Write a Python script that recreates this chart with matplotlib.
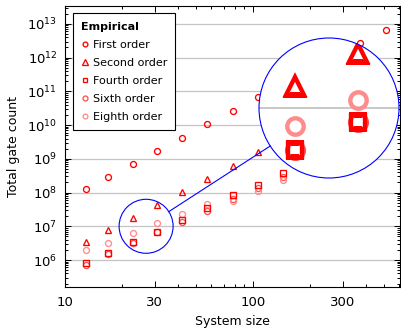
import numpy as np
import matplotlib
matplotlib.use('Agg')
import matplotlib.pyplot as plt
from matplotlib.patches import Circle
from matplotlib.lines import Line2D
from matplotlib.transforms import IdentityTransform
from matplotlib.ticker import LogLocator, NullFormatter, FixedLocator, FuncFormatter

plt.rcParams['font.family'] = ['DejaVu Sans']

# gate counts per system size, one series per product-formula order
first_x = [13, 17, 23, 31, 42, 57, 78, 106, 370, 510]
first_order = [1.27e8, 2.83e8, 7.18e8, 1.71e9, 4.24e9, 1.06e10, 2.68e10, 6.70e10, 2.67e12, 6.64e12]

second_x = [13, 17, 23, 31, 42, 57, 78, 106]
second_order = [3.48e6, 7.74e6, 1.79e7, 4.28e7, 1.02e8, 2.52e8, 6.27e8, 1.56e9]

high_x = [13, 17, 23, 31, 42, 57, 78, 106, 145]
fourth_order = [8.13e5, 1.64e6, 3.34e6, 6.90e6, 1.56e7, 3.56e7, 8.18e7, 1.64e8, 3.67e8]
sixth_order = [7.35e5, 1.50e6, 3.30e6, 6.84e6, 1.38e7, 2.93e7, 6.44e7, 1.34e8, 2.99e8]
eighth_order = [1.98e6, 3.25e6, 6.18e6, 1.22e7, 2.36e7, 4.73e7, 5.43e7, 1.11e8, 2.36e8]

xticks = [10, 30, 100, 300]
yticks = [1e6, 1e7, 1e8, 1e9, 1e10, 1e11, 1e12, 1e13]

RED = '#ff0000'
series = [
    ('First order', first_x, first_order, 'o', RED, 4.3, 3),
    ('Second order', second_x, second_order, '^', RED, 4.8, 3),
    ('Fourth order', high_x, fourth_order, 's', RED, 3.8, 5),
    ('Sixth order', high_x, sixth_order, 'o', '#ff5252', 4.4, 4),
    ('Eighth order', high_x, eighth_order, 'o', '#ff8c8c', 4.3, 4),
]

W, H = 401, 329
fig = plt.figure(figsize=(W / 100, H / 100), dpi=100)
ax = fig.add_axes([65 / W, 42 / H, 335 / W, 281 / H])
ax.set_xscale('log')
ax.set_yscale('log')
ax.set_xlim(10, 605)
ax.set_ylim(10**5.2, 10**13.53)

for label, xs, ys, m, c, ms, z in series:
    ax.plot(xs, ys, ls='none', marker=m, ms=ms, mfc='none', mec=c, mew=0.95,
            label=label, zorder=z)

ax.set_xticks(xticks)
ax.set_xticklabels([str(t) for t in xticks])
ax.xaxis.set_minor_locator(LogLocator(base=10, subs=np.arange(2, 10), numticks=50))
ax.xaxis.set_minor_formatter(NullFormatter())
ax.yaxis.set_major_locator(FixedLocator(yticks))
ax.yaxis.set_major_formatter(FuncFormatter(
    lambda v, p: r'$\mathregular{10^{%d}}$' % int(round(np.log10(v)))))
ax.yaxis.set_minor_locator(LogLocator(base=10, subs=np.arange(2, 10), numticks=100))
ax.yaxis.set_minor_formatter(NullFormatter())
ax.tick_params(which='both', direction='in', top=True, right=True, width=0.7)
ax.tick_params(which='major', length=4.5, labelsize=9.5)
ax.tick_params(which='minor', length=2.5)
ax.tick_params(axis='x', which='major', pad=6.5)
ax.tick_params(axis='y', which='major', pad=5.5)
for s in ax.spines.values():
    s.set_linewidth(0.8)

ax.grid(axis='y', which='major', color='#c4c4c4', lw=0.9)
ax.set_axisbelow(True)
ax.set_xlabel('System size', fontsize=9, labelpad=4)
ax.set_ylabel('Total gate count', fontsize=9, labelpad=5)

leg = ax.legend(title='Empirical', loc='upper left', bbox_to_anchor=(0.023, 0.974),
                borderaxespad=0, fontsize=8, title_fontproperties={'weight': 'bold', 'size': 8},
                alignment='left', handlelength=0.7, handletextpad=0.35, labelspacing=0.72,
                borderpad=0.75, fancybox=False, framealpha=1, edgecolor='black',
                markerscale=0.8)
leg.get_frame().set_linewidth(0.8)

# magnified view around (27, 1e7)
zoom_c = (27, 1e7)
half_dec = (0.1436, 0.80)
r_small, r_big = 27, 70
big_c = (329, H - 108)
mag, lw_mag = 2.75, 3.3

ax_in = fig.add_axes([(big_c[0] - r_big) / W, (big_c[1] - r_big) / H, 2 * r_big / W, 2 * r_big / H])
ax_in.set_xscale('log')
ax_in.set_yscale('log')
ax_in.set_xlim(10**(np.log10(zoom_c[0]) - half_dec[0]), 10**(np.log10(zoom_c[0]) + half_dec[0]))
ax_in.set_ylim(10**(7 - half_dec[1]), 10**(7 + half_dec[1]))
ax_in.axis('off')
clip = Circle((0.5, 0.5), 0.5, transform=ax_in.transAxes)
ax_in.add_patch(Circle((0.5, 0.5), 0.5, transform=ax_in.transAxes, fc='white', ec='none', zorder=0))
gl = ax_in.axhline(1e7, color='#c4c4c4', lw=1.3, zorder=1)
gl.set_clip_path(clip)
for label, xs, ys, m, c, ms, z in series:
    ln, = ax_in.plot(xs, ys, ls='none', marker=m, ms=ms * mag, mfc='none', mec=c,
                     mew=0.95 * lw_mag, zorder=z)
    ln.set_clip_path(clip)

# outline circles and connector in pixel coordinates
small_c = ax.transData.transform(zoom_c)
fig.add_artist(Circle(small_c, r_small, transform=IdentityTransform(), fill=False,
                      ec='#0000ff', lw=0.8))
fig.add_artist(Circle(big_c, r_big, transform=IdentityTransform(), fill=False,
                      ec='#0000ff', lw=0.8))
d = np.array(big_c) - small_c
u = d / np.hypot(*d)
p0 = small_c + r_small * u
p1 = np.array(big_c) - r_big * u
fig.add_artist(Line2D([p0[0], p1[0]], [p0[1], p1[1]], transform=IdentityTransform(),
                      color='#0000ff', lw=0.8))

fig.savefig('out.png', dpi=100)
